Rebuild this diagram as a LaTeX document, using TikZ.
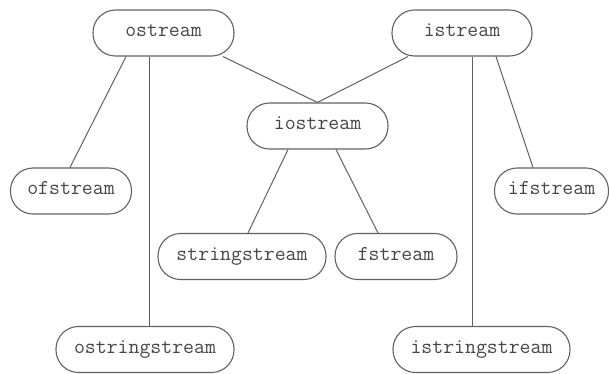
\documentclass[tikz,border=0pt]{standalone}
\begin{document}
\begin{tikzpicture}[x=1pt,y=-1pt,
  cls/.style={draw=black!62, line width=1.1pt, rectangle, rounded corners=22.5pt,
    minimum height=46pt, inner sep=0pt, text=black!72,
    text height=10pt, text depth=3pt,
    font=\ttfamily\fontsize{21.2pt}{23pt}\selectfont},
  link/.style={draw=black!62, line width=1pt}]
\useasboundingbox (0,0) rectangle (609,373);
\node[cls, minimum width=141pt] (ostream) at (163.5,33) {ostream};
\node[cls, minimum width=140pt] (istream) at (462,33) {istream};
\node[cls, minimum width=141pt] (iostream) at (317.5,126) {iostream};
\node[cls, minimum width=121pt] (ofstream) at (71,191) {ofstream};
\node[cls, minimum width=114pt] (ifstream) at (551.5,191) {ifstream};
\node[cls, minimum width=168pt] (stringstream) at (242,256.5) {stringstream};
\node[cls, minimum width=122pt] (fstream) at (396,256.5) {fstream};
\node[cls, minimum width=178pt] (ostringstream) at (145,349.5) {ostringstream};
\node[cls, minimum width=177pt] (istringstream) at (481.5,349.5) {istringstream};
\draw[link] ([xshift=-37.5pt]ostream.south) -- ([xshift=-1pt]ofstream.north);
\draw[link] ([xshift=-14.5pt]ostream.south) -- ([xshift=4pt]ostringstream.north);
\draw[link] ([xshift=59.5pt]ostream.south) -- (iostream.north);
\draw[link] ([xshift=-54pt]istream.south) -- (iostream.north);
\draw[link] ([xshift=10pt]istream.south) -- ([xshift=-9.5pt]istringstream.north);
\draw[link] ([xshift=34pt]istream.south) -- ([xshift=-18.5pt]ifstream.north);
\draw[link] ([xshift=-29.5pt]iostream.south) -- ([xshift=6pt]stringstream.north);
\draw[link] ([xshift=18.5pt]iostream.south) -- ([xshift=-18pt]fstream.north);
\end{tikzpicture}
\end{document}
